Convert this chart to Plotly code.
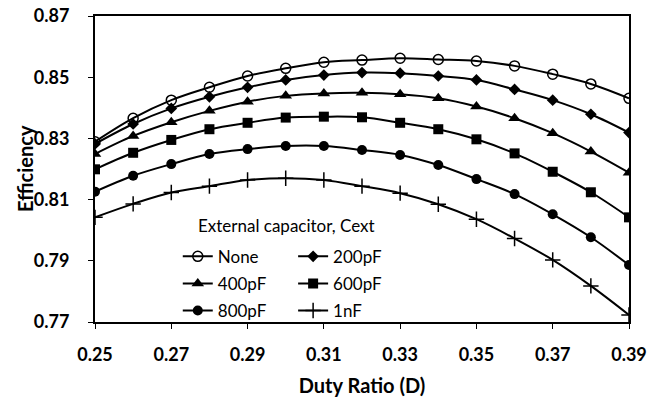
import plotly.graph_objects as go

duty = [0.25, 0.26, 0.27, 0.28, 0.29, 0.30, 0.31, 0.32, 0.33, 0.34, 0.35, 0.36, 0.37, 0.38, 0.39]

eff_none = [0.8289, 0.8366, 0.8425, 0.8467, 0.8504, 0.8529, 0.8549, 0.8556, 0.8562, 0.8558, 0.8553, 0.8537, 0.8510, 0.8478, 0.8431]
eff_200p = [0.8282, 0.8347, 0.8398, 0.8436, 0.8467, 0.8491, 0.8507, 0.8515, 0.8513, 0.8504, 0.8491, 0.8460, 0.8425, 0.8379, 0.8319]
eff_400p = [0.8249, 0.8308, 0.8353, 0.8390, 0.8420, 0.8439, 0.8447, 0.8449, 0.8444, 0.8431, 0.8404, 0.8366, 0.8317, 0.8257, 0.8188]
eff_600p = [0.8199, 0.8253, 0.8295, 0.8330, 0.8351, 0.8368, 0.8371, 0.8369, 0.8351, 0.8330, 0.8297, 0.8251, 0.8191, 0.8124, 0.8042]
eff_800p = [0.8126, 0.8178, 0.8216, 0.8249, 0.8265, 0.8275, 0.8275, 0.8262, 0.8246, 0.8213, 0.8167, 0.8118, 0.8052, 0.7977, 0.7886]
eff_1n = [0.8042, 0.8086, 0.8123, 0.8144, 0.8164, 0.8170, 0.8164, 0.8144, 0.8121, 0.8085, 0.8036, 0.7973, 0.7903, 0.7818, 0.7723]

series_names = ["None", "200pF", "400pF", "600pF", "800pF", "1nF"]
series_values = [eff_none, eff_200p, eff_400p, eff_600p, eff_800p, eff_1n]
legend_title = "External capacitor, Cext"
x_title = "Duty Ratio (D)"
y_title = "Efficiency"

x_ticks = [0.25, 0.27, 0.29, 0.31, 0.33, 0.35, 0.37, 0.39]
y_ticks = [0.77, 0.79, 0.81, 0.83, 0.85, 0.87]

symbols = ["circle-open", "diamond", "triangle-up", "square", "circle", "cross-thin-open"]
sizes = [10, 9, 11, 10, 10, 11]
legends = ["legend", "legend2", "legend", "legend2", "legend", "legend2"]

FONT = "Lato"

fig = go.Figure()
for i, (name, vals, sym, sz, lg) in enumerate(zip(series_names, series_values, symbols, sizes, legends)):
    fig.add_trace(go.Scatter(
        x=duty, y=vals, name=name, mode="lines+markers",
        line=dict(color="black", width=2, shape="spline"),
        marker=dict(symbol=sym, size=sz, color="black",
                    line=dict(color="black", width=1.5 if "open" in sym else 0)),
        legend=lg, legendgroup=f"g{i}",
    ))

legend_common = dict(
    y=0.272, xanchor="left", yanchor="top",
    bgcolor="rgba(0,0,0,0)",
    font=dict(size=17, family=FONT),
    tracegroupgap=2,
)

fig.update_layout(
    width=662, height=397,
    margin=dict(l=95, r=33, t=16, b=75),
    paper_bgcolor="white", plot_bgcolor="white",
    font=dict(family=FONT, color="black"),
    legend=dict(x=0.155, **legend_common),
    legend2=dict(x=0.371, **legend_common),
    annotations=[
        dict(text=legend_title, xref="paper", yref="paper",
             x=0.19, y=0.314, xanchor="left", yanchor="middle",
             showarrow=False, font=dict(size=17, family=FONT)),
        dict(text=f"<b>{y_title}</b>", xref="paper", yref="paper",
             x=-0.131, y=0.5, xanchor="center", yanchor="middle", textangle=-90,
             showarrow=False, font=dict(size=20, family=FONT)),
    ],
)

fig.update_xaxes(
    range=[0.25, 0.39], tickvals=x_ticks, ticktext=[f"{v:.2f}" for v in x_ticks],
    showgrid=False, zeroline=False, automargin=False,
    showline=True, linecolor="black", linewidth=2, mirror=True,
    ticks="outside", ticklen=5, tickcolor="black", tickwidth=1,
    tickfont=dict(size=18, family=FONT, weight="bold"),
    ticklabelstandoff=10,
    title=dict(text=f"<b>{x_title}</b>", font=dict(size=20, family=FONT)),
)
fig.update_yaxes(
    range=[0.77, 0.87], tickvals=y_ticks, ticktext=[f"{v:.2f}" for v in y_ticks],
    showgrid=False, zeroline=False, automargin=False,
    showline=True, linecolor="black", linewidth=2, mirror=True,
    ticks="outside", ticklen=5, tickcolor="black", tickwidth=1,
    tickfont=dict(size=18, family=FONT, weight="bold"),
    ticklabelstandoff=15,
)

fig.write_html("out.html")
